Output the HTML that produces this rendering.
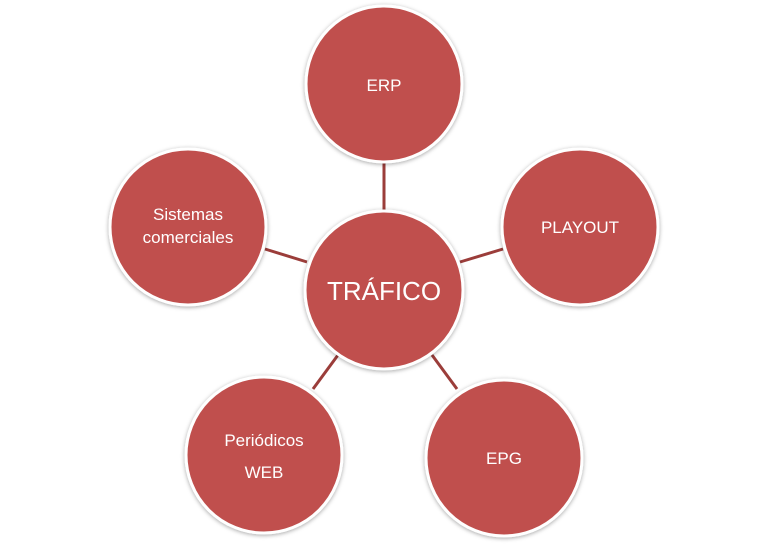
<!DOCTYPE html>
<html><head><meta charset="utf-8"><style>
html,body{margin:0;padding:0;background:#fff;}
</style></head><body>
<svg width="768" height="544" viewBox="0 0 768 544" xmlns="http://www.w3.org/2000/svg" font-family="Liberation Sans, sans-serif">
<defs>
<filter id="s" x="-20%" y="-20%" width="140%" height="140%"><feDropShadow dx="0" dy="1" stdDeviation="2" flood-color="#000" flood-opacity="0.35"/></filter>
</defs>
<g stroke="#9b3d3a" stroke-width="3">
<line x1="384" y1="162" x2="384" y2="211"/>
<line x1="460" y1="262" x2="503" y2="249"/>
<line x1="307" y1="262" x2="265" y2="249"/>
<line x1="338" y1="355" x2="313" y2="389"/>
<line x1="432" y1="355" x2="457" y2="389"/>
</g>
<g fill="#c0504d" stroke="#fff" stroke-width="3" filter="url(#s)">
<circle cx="384" cy="84" r="78"/>
<circle cx="580" cy="227" r="78"/>
<circle cx="504" cy="458" r="78"/>
<circle cx="264" cy="455" r="78"/>
<circle cx="188" cy="227" r="78"/>
<circle cx="384" cy="290" r="79"/>
</g>
<g fill="#fff" text-anchor="middle" font-size="17">
<text x="384" y="91">ERP</text>
<text x="580" y="233">PLAYOUT</text>
<text x="504" y="464">EPG</text>
<text x="264" y="446">Periódicos</text>
<text x="264" y="478">WEB</text>
<text x="188" y="220">Sistemas</text>
<text x="188" y="243">comerciales</text>
<text x="384" y="300" font-size="26">TRÁFICO</text>
</g>
</svg>
</body></html>
